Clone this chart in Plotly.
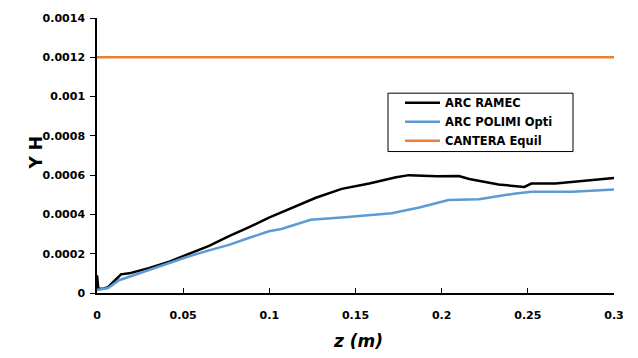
import plotly.graph_objects as go

z_ramec = [0.0, 0.0008, 0.004, 0.0064, 0.0105, 0.0139, 0.0186, 0.030, 0.042, 0.053, 0.065, 0.0766, 0.088,
           0.0998, 0.107, 0.127, 0.142, 0.158, 0.1735, 0.181, 0.197, 0.210, 0.216, 0.233, 0.248, 0.252,
           0.266, 0.280, 0.300]
y_ramec = [9.0e-5, 2.0e-5, 2.3e-5, 3.0e-5, 6.5e-5, 9.5e-5, 1.0e-4, 1.26e-4, 1.6e-4, 2.0e-4, 2.4e-4, 2.9e-4,
           3.34e-4, 3.84e-4, 4.1e-4, 4.85e-4, 5.3e-4, 5.57e-4, 5.89e-4, 6.0e-4, 5.94e-4, 5.96e-4, 5.8e-4,
           5.52e-4, 5.4e-4, 5.57e-4, 5.58e-4, 5.69e-4, 5.86e-4]

z_polimi = [0.0, 0.004, 0.0064, 0.0128, 0.0186, 0.030, 0.042, 0.053, 0.065, 0.0766, 0.088, 0.0998, 0.107,
            0.124, 0.142, 0.162, 0.171, 0.187, 0.204, 0.2216, 0.243, 0.252, 0.276, 0.300]
y_polimi = [1.5e-5, 2.0e-5, 2.5e-5, 6.5e-5, 8.2e-5, 1.16e-4, 1.5e-4, 1.86e-4, 2.17e-4, 2.45e-4, 2.8e-4,
            3.14e-4, 3.26e-4, 3.73e-4, 3.84e-4, 4.01e-4, 4.06e-4, 4.35e-4, 4.73e-4, 4.77e-4, 5.07e-4,
            5.15e-4, 5.15e-4, 5.27e-4]

z_cantera = [0.0, 0.3]
y_cantera = [0.0012, 0.0012]

x_ticks = [0, 0.05, 0.1, 0.15, 0.2, 0.25, 0.3]
x_tick_labels = ["0", "0.05", "0.1", "0.15", "0.2", "0.25", "0.3"]
y_ticks = [0, 0.0002, 0.0004, 0.0006, 0.0008, 0.001, 0.0012, 0.0014]
y_tick_labels = ["0", "0.0002", "0.0004", "0.0006", "0.0008", "0.001", "0.0012", "0.0014"]

FONT = "DejaVu Sans"
W, H = 638, 358
ML, MR, MT, MB = 97, 24, 15, 65

fig = go.Figure()
fig.add_trace(go.Scatter(x=z_ramec, y=y_ramec, mode="lines", name="<b>ARC RAMEC</b>",
                         line=dict(color="#000000", width=2.5)))
fig.add_trace(go.Scatter(x=z_polimi, y=y_polimi, mode="lines", name="<b>ARC POLIMI Opti</b>",
                         line=dict(color="#5B9BD5", width=2.5)))
fig.add_trace(go.Scatter(x=z_cantera, y=y_cantera, mode="lines", name="<b>CANTERA Equil</b>",
                         line=dict(color="#ED7D31", width=2.5)))

pw = W - ML - MR
ph = H - MT - MB


def px2paper(px, py):
    return (px - ML) / pw, (H - MB - py) / ph


lx, ly = px2paper(400, 86)
bx0, by0 = px2paper(388, 150)
bx1, by1 = px2paper(573, 91)
tx, ty = px2paper(36, 152)
zx, zy = px2paper(358, 342)

fig.update_layout(
    width=W, height=H,
    margin=dict(l=ML, r=MR, t=MT, b=MB),
    paper_bgcolor="white", plot_bgcolor="white",
    font=dict(family=FONT, color="black", size=11),
    showlegend=True,
    legend=dict(x=lx, y=ly, xanchor="left", yanchor="top",
                borderwidth=0, bgcolor="rgba(0,0,0,0)",
                font=dict(family=FONT, size=11.5, color="black"),
                tracegroupgap=0, itemwidth=35),
    shapes=[dict(type="rect", xref="paper", yref="paper", x0=bx0, y0=by0, x1=bx1, y1=by1,
                 line=dict(color="black", width=1), fillcolor="white", layer="above")],
    xaxis=dict(range=[0, 0.3], tickvals=x_ticks, ticktext=["<b>%s</b>" % t for t in x_tick_labels],
               showgrid=False, zeroline=False, showline=True, linecolor="black", linewidth=1.5,
               ticks="inside", ticklen=5, tickcolor="black", tickwidth=1,
               tickfont=dict(family=FONT, size=11, color="black"), ticklabelstandoff=11),
    yaxis=dict(range=[0, 0.0014], tickvals=y_ticks, ticktext=["<b>%s</b>" % t for t in y_tick_labels],
               showgrid=False, zeroline=False, showline=True, linecolor="black", linewidth=1.5,
               ticks="outside", ticklen=5, tickcolor="black", tickwidth=1,
               tickfont=dict(family=FONT, size=11, color="black"), ticklabelstandoff=3),
    annotations=[
        dict(text="<b>Y H</b>", x=tx, y=ty, xref="paper", yref="paper", showarrow=False,
             xanchor="center", yanchor="middle",
             textangle=-90, font=dict(family=FONT, size=17, color="black")),
        dict(text="<b><i>z (m)</i></b>", x=zx, y=zy, xref="paper", yref="paper", showarrow=False,
             xanchor="center", yanchor="middle",
             font=dict(family=FONT, size=17, color="black")),
    ],
)

fig.write_html("out.html", config={"displayModeBar": False})

with open("out.html", "r", encoding="utf-8") as f:
    html = f.read()
html = html.replace("<body>", '<body style="margin:0;padding:0;overflow:hidden">', 1)
with open("out.html", "w", encoding="utf-8") as f:
    f.write(html)
